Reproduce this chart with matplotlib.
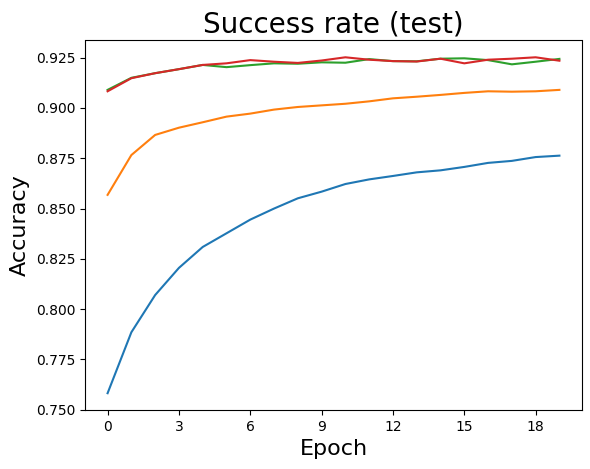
import matplotlib
matplotlib.use("Agg")
import matplotlib.pyplot as plt

epochs = list(range(20))
blue = [0.7582, 0.7885, 0.8070, 0.8205, 0.8309, 0.8377, 0.8445, 0.8500, 0.8551, 0.8584,
        0.8622, 0.8645, 0.8662, 0.8680, 0.8690, 0.8707, 0.8727, 0.8737, 0.8756, 0.8763]
orange = [0.8568, 0.8766, 0.8866, 0.8902, 0.8929, 0.8957, 0.8972, 0.8992, 0.9005, 0.9013,
          0.9021, 0.9033, 0.9048, 0.9056, 0.9065, 0.9075, 0.9083, 0.9081, 0.9083, 0.9090]
green = [0.9090, 0.9150, 0.9173, 0.9193, 0.9214, 0.9203, 0.9213, 0.9222, 0.9220, 0.9227,
         0.9225, 0.9243, 0.9233, 0.9232, 0.9245, 0.9247, 0.9238, 0.9217, 0.9230, 0.9244]
red = [0.9083, 0.9148, 0.9173, 0.9193, 0.9214, 0.9222, 0.9238, 0.9230, 0.9224, 0.9236,
       0.9252, 0.9240, 0.9233, 0.9231, 0.9245, 0.9222, 0.9240, 0.9245, 0.9252, 0.9235]
xticks = [0, 3, 6, 9, 12, 15, 18]

fig = plt.figure(figsize=(5.9, 4.69), dpi=100)
ax = fig.add_axes([85 / 590, (469 - 410) / 469, 497 / 590, 369.5 / 469])
for s, c in zip([blue, orange, green, red], ["#1f77b4", "#ff7f0e", "#2ca02c", "#d62728"]):
    ax.plot(epochs, s, color=c)
ax.set_xticks(xticks)
ax.set_title("Success rate (test)", fontsize=20)
ax.set_xlabel("Epoch", fontsize=16)
ax.set_ylabel("Accuracy", fontsize=16)
fig.savefig("out.png", dpi=100)
